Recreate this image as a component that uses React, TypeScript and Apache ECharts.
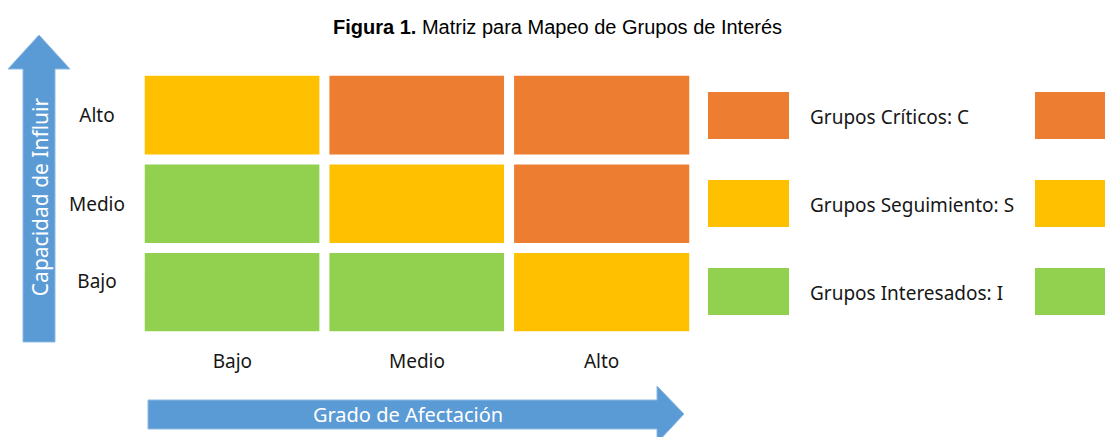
import React, { useEffect, useRef } from "react";
import * as echarts from "echarts";

const xCategories = ["Bajo", "Medio", "Alto"];
const yCategories = ["Bajo", "Medio", "Alto"];
const groupCodes = ["I", "S", "C"];
const groupColors = ["#92D050", "#FFC000", "#ED7D31"];
// legend rows, top to bottom
const legendCodes = ["C", "S", "I"];
const legendNames = ["Grupos Críticos: C", "Grupos Seguimiento: S", "Grupos Interesados: I"];
// rows from Bajo (bottom) to Alto (top); columns Bajo, Medio, Alto
const matrixRows = [
  ["I", "I", "S"],
  ["I", "S", "C"],
  ["S", "C", "C"],
];
const yAxisTitle = "Capacidad de Influir";
const xAxisTitle = "Grado de Afectación";
const titleBold = "Figura 1.";
const titleRest = " Matriz para Mapeo de Grupos de Interés";

const FONT = "'Noto Sans', sans-serif";
const BLUE = "#5B9BD5";
const TEXT = "#161616";

export default function App() {
  const ref = useRef<HTMLDivElement>(null);
  useEffect(() => {
    if (!ref.current) return;
    const chart = echarts.init(ref.current, null, { renderer: "svg" });
    const data: number[][] = [];
    matrixRows.forEach((row, yi) =>
      row.forEach((code, xi) => data.push([xi, yi, groupCodes.indexOf(code)]))
    );
    const legendGraphics: any[] = [];
    legendCodes.forEach((code, i) => {
      const color = groupColors[groupCodes.indexOf(code)];
      const top = 92 + i * 88;
      legendGraphics.push({
        type: "rect",
        shape: { x: 708, y: top, width: 81, height: 47 },
        style: { fill: color },
      });
      legendGraphics.push({
        type: "rect",
        shape: { x: 1035, y: top, width: 90, height: 47 },
        style: { fill: color },
      });
      legendGraphics.push({
        type: "text",
        x: 810,
        y: top + 25,
        style: {
          text: legendNames[i],
          fill: TEXT,
          font: `19px ${FONT}`,
          verticalAlign: "middle",
          align: "left",
        },
      });
    });

    const labelStyle = { fontFamily: FONT, fontSize: 19, color: TEXT };

    chart.setOption({
      animation: false,
      backgroundColor: "#ffffff",
      title: {
        left: 328,
        top: 12,
        text: `{b|${titleBold}}{n|${titleRest}}`,
        textStyle: {
          rich: {
            b: { fontFamily: "'Liberation Sans', Arial", fontWeight: "bold", fontSize: 20, color: "#000" },
            n: { fontFamily: "'Liberation Sans', Arial", fontWeight: "normal", fontSize: 20, color: "#000" },
          },
        },
      },
      grid: { left: 140, top: 71, width: 554, height: 265 },
      xAxis: {
        type: "category",
        data: xCategories,
        axisLine: { show: false },
        axisTick: { show: false },
        splitLine: { show: false },
        axisLabel: { margin: 15, ...labelStyle },
      },
      yAxis: {
        type: "category",
        data: yCategories,
        axisLine: { show: false },
        axisTick: { show: false },
        splitLine: { show: false },
        axisLabel: {
          margin: 43,
          align: "center",
          ...labelStyle,
          formatter: (v: string, i: number) => (i === 0 ? `{low|${v}}` : `{std|${v}}`),
          rich: {
            low: { ...labelStyle, padding: [0, 0, 22, 0] },
            std: { ...labelStyle },
          },
        },
      },
      visualMap: {
        show: false,
        type: "piecewise",
        dimension: 2,
        pieces: groupColors.map((c, i) => ({ value: i, color: c })),
      },
      series: [
        {
          type: "heatmap",
          data,
          itemStyle: { borderColor: "#ffffff", borderWidth: 10 },
          label: { show: false },
          emphasis: { disabled: true },
        },
      ],
      graphic: [
        {
          type: "polygon",
          shape: {
            points: [
              [39, 35], [70, 69], [55, 69], [55, 342], [23, 342], [23, 69], [8, 69],
            ],
          },
          style: { fill: BLUE, stroke: "#8DB9E3", lineWidth: 1 },
        },
        {
          type: "text",
          x: 40,
          y: 197,
          rotation: Math.PI / 2,
          style: {
            text: yAxisTitle,
            fill: "#ffffff",
            font: `21px ${FONT}`,
            align: "center",
            verticalAlign: "middle",
          },
        },
        {
          type: "polygon",
          shape: {
            points: [
              [148, 400], [657, 400], [657, 386], [684, 414], [657, 443], [657, 429], [148, 429],
            ],
          },
          style: { fill: BLUE, stroke: "#8DB9E3", lineWidth: 1 },
        },
        {
          type: "text",
          x: 408,
          y: 414,
          style: {
            text: xAxisTitle,
            fill: "#ffffff",
            font: `20px ${FONT}`,
            align: "center",
            verticalAlign: "middle",
          },
        },
        ...legendGraphics,
      ],
    });
    return () => chart.dispose();
  }, []);
  return (
    <div
      ref={ref}
      style={{ position: "absolute", left: 0, top: 0, width: 1105, height: 437 }}
    />
  );
}
